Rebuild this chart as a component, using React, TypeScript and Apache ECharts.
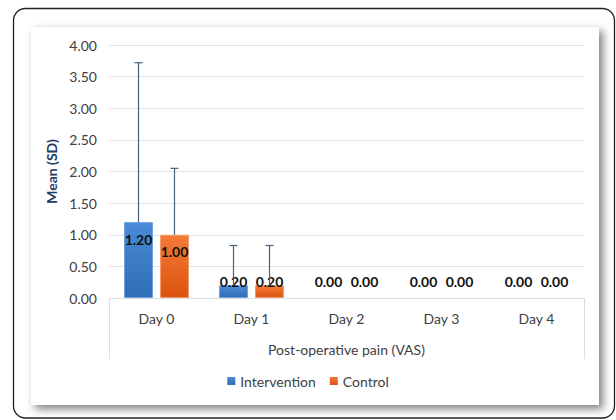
import React, { useEffect, useRef } from "react";
import * as echarts from "echarts";

const categories = ["Day 0", "Day 1", "Day 2", "Day 3", "Day 4"];
const interventionMean = [1.2, 0.2, 0, 0, 0];
const controlMean = [1.0, 0.2, 0, 0, 0];
const interventionSD = [2.52, 0.63, 0, 0, 0];
const controlSD = [1.05, 0.63, 0, 0, 0];
const yTicks = [0, 0.5, 1, 1.5, 2, 2.5, 3, 3.5, 4];

const FONT = "Lato";
const BLUE = new echarts.graphic.LinearGradient(0, 0, 0, 1, [
  { offset: 0, color: "#4b8ad6" },
  { offset: 1, color: "#2f6db6" },
]);
const ORANGE = new echarts.graphic.LinearGradient(0, 0, 0, 1, [
  { offset: 0, color: "#f47a38" },
  { offset: 1, color: "#dc540f" },
]);

function labelFor(v: number) {
  if (v >= 0.5) {
    return { position: "insideTop", distance: 10 };
  }
  return { position: "insideBottom", distance: 10 };
}

export default function App() {
  const ref = useRef<HTMLDivElement>(null);
  useEffect(() => {
    if (!ref.current) return;
    const chart = echarts.init(ref.current, undefined, { renderer: "svg" });
    const BAR_W = 29;
    const OFFSET = 18;
    const errRender = (offset: number) => (params: any, api: any) => {
      const idx = api.value(0);
      const mean = api.value(1);
      const sd = api.value(2);
      if (!sd) return { type: "group", children: [] };
      const base = api.coord([idx, mean]);
      const top = api.coord([idx, mean + sd]);
      const x = base[0] + offset;
      const stroke = { stroke: "#46617f", lineWidth: 1.2 };
      return {
        type: "group",
        children: [
          { type: "line", shape: { x1: x, y1: base[1], x2: x, y2: top[1] }, style: stroke },
          { type: "line", shape: { x1: x - 4, y1: top[1], x2: x + 4, y2: top[1] }, style: stroke },
        ],
      };
    };
    const makeBar = (name: string, vals: number[], color: any, border: string) => ({
      name,
      type: "bar",
      barWidth: BAR_W,
      barGap: "24%",
      data: vals.map((v) => ({
        value: v,
        label: labelFor(v),
        itemStyle: { borderWidth: v > 0 ? 1 : 0 },
      })),
      itemStyle: { color, borderColor: border, borderWidth: 1 },
      label: {
        show: true,
        formatter: (p: any) => Number(p.value).toFixed(2),
        fontFamily: FONT,
        fontWeight: "bold",
        fontSize: 14,
        color: "#111",
      },
      z: 2,
    });
    chart.setOption({
      animation: false,
      backgroundColor: "#ffffff",
      textStyle: { fontFamily: FONT },
      graphic: [
        {
          type: "rect",
          shape: { x: 13.5, y: 8.5, width: 601, height: 409.5, r: 12 },
          style: { fill: "#ffffff", stroke: "#222", lineWidth: 1.3 },
          z: -10,
          silent: true,
        },
        {
          type: "rect",
          shape: { x: 31, y: 27, width: 568, height: 378 },
          style: {
            fill: "#ffffff",
            shadowBlur: 8,
            shadowOffsetX: 4,
            shadowOffsetY: 4,
            shadowColor: "rgba(0,0,0,0.5)",
          },
          z: -9,
          silent: true,
        },
        {
          type: "line",
          shape: { x1: 109.5, y1: 298, x2: 109.5, y2: 359 },
          style: { stroke: "#d9dfe7", lineWidth: 1 },
          silent: true,
        },
        {
          type: "line",
          shape: { x1: 584.5, y1: 298, x2: 584.5, y2: 359 },
          style: { stroke: "#d9dfe7", lineWidth: 1 },
          silent: true,
        },
      ],
      grid: { left: 109, right: 32, top: 45, bottom: 122, containLabel: false },
      legend: {
        data: ["Intervention", "Control"],
        bottom: 27,
        left: "center",
        icon: "rect",
        itemWidth: 8,
        itemHeight: 8,
        itemGap: 14,
        itemStyle: { borderWidth: 0 },
        textStyle: { fontFamily: FONT, fontSize: 14, color: "#404040" },
      },
      xAxis: {
        type: "category",
        data: categories,
        name: "Post-operative pain (VAS)",
        nameLocation: "middle",
        nameGap: 44,
        nameTextStyle: { fontFamily: FONT, fontSize: 14, color: "#404040" },
        axisLine: { lineStyle: { color: "#d9dfe7" } },
        axisTick: { show: false },
        axisLabel: { fontFamily: FONT, fontSize: 14, color: "#404040", margin: 13 },
      },
      yAxis: {
        type: "value",
        min: yTicks[0],
        max: yTicks[yTicks.length - 1],
        interval: 0.5,
        name: "Mean (SD)",
        nameLocation: "middle",
        nameGap: 40,
        nameTextStyle: { fontFamily: FONT, fontSize: 14, fontWeight: "bold", color: "#1f3864" },
        axisLine: { show: false },
        axisTick: { show: false },
        axisLabel: {
          fontFamily: FONT,
          fontSize: 14,
          color: "#404040",
          margin: 12,
          formatter: (v: number) => v.toFixed(2),
        },
        splitLine: { lineStyle: { color: "#dde3ea" } },
      },
      series: [
        makeBar("Intervention", interventionMean, BLUE, "#6fa3e0"),
        makeBar("Control", controlMean, ORANGE, "#f59a6a"),
        {
          type: "custom",
          renderItem: errRender(-OFFSET),
          data: categories.map((_, i) => [i, interventionMean[i], interventionSD[i]]),
          z: 3,
          silent: true,
        },
        {
          type: "custom",
          renderItem: errRender(OFFSET),
          data: categories.map((_, i) => [i, controlMean[i], controlSD[i]]),
          z: 3,
          silent: true,
        },
      ],
    });
    return () => chart.dispose();
  }, []);
  return (
    <div
      ref={ref}
      style={{ position: "fixed", left: 0, top: 0, width: 616, height: 420 }}
    />
  );
}
